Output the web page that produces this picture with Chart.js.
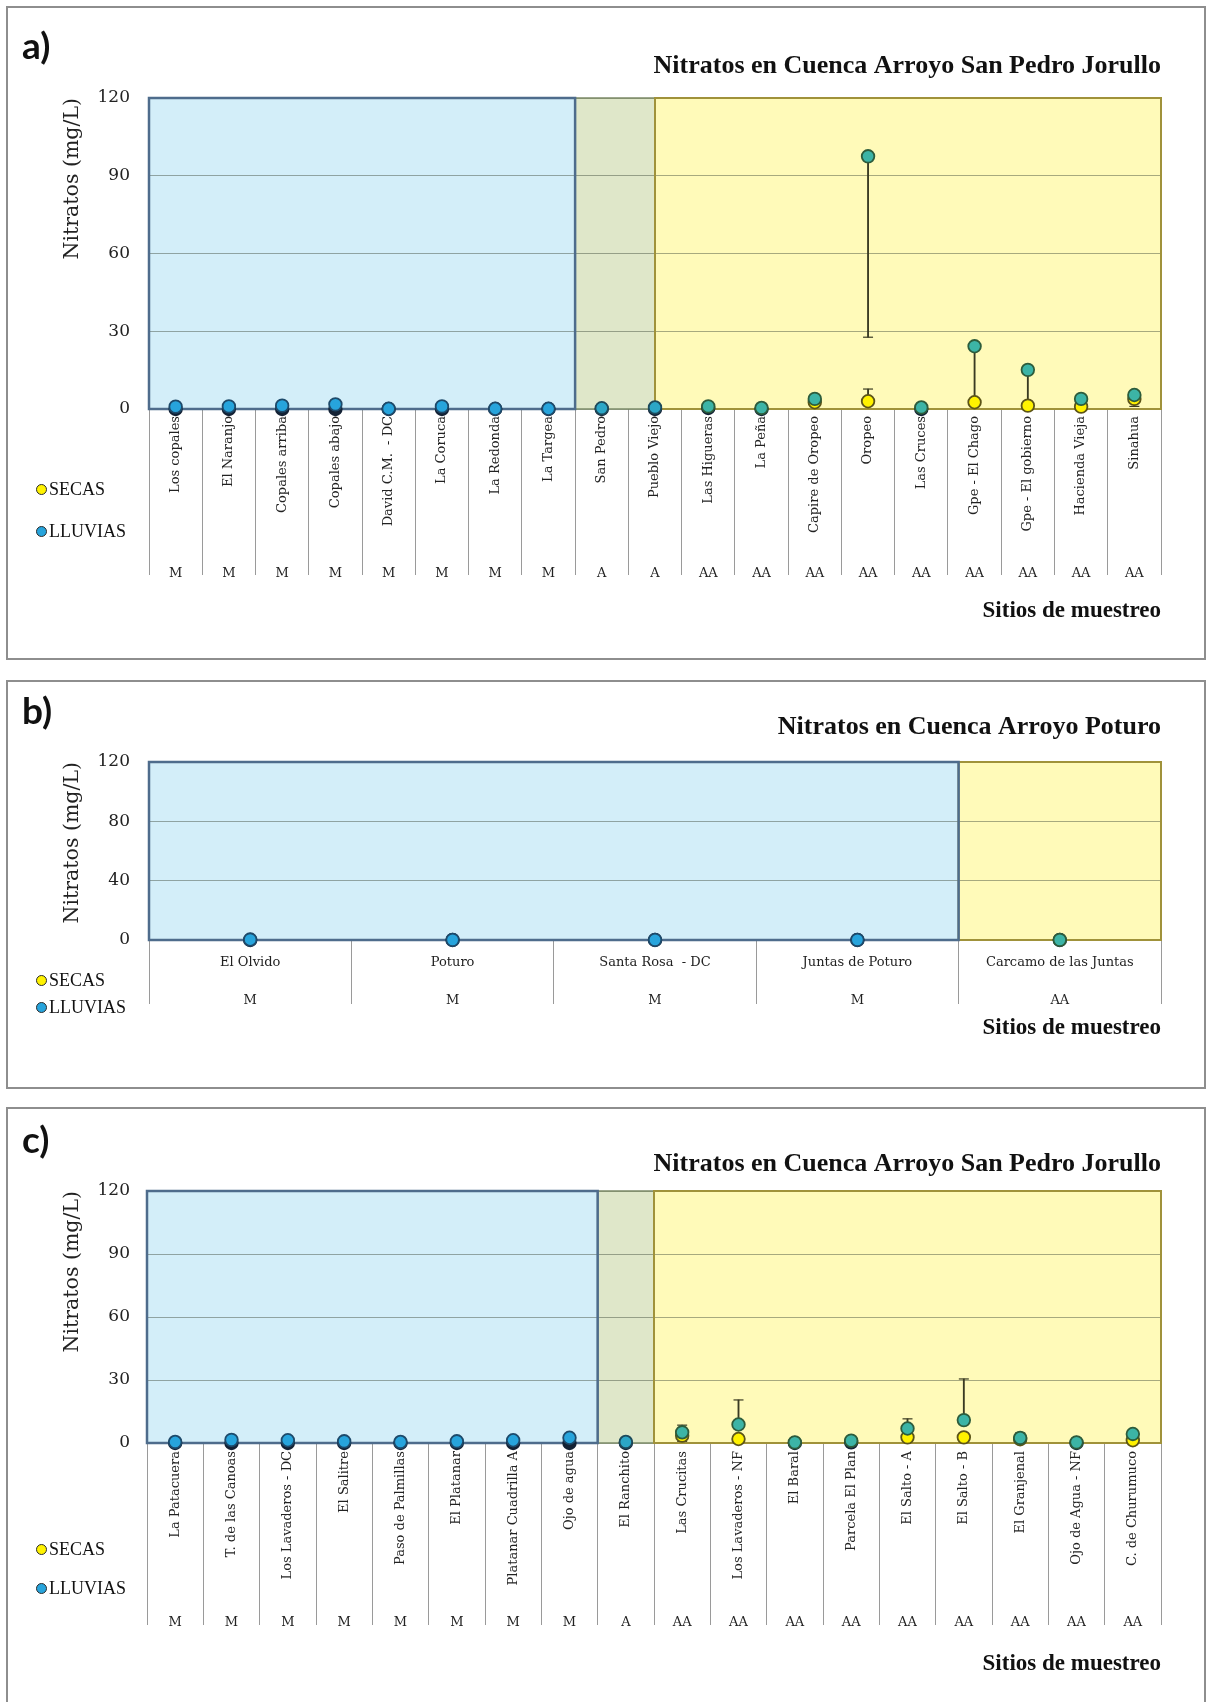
<!DOCTYPE html>
<html><head><meta charset="utf-8">
<script src="https://cdn.jsdelivr.net/npm/chart.js@4.4.1/dist/chart.umd.min.js"></script>
<style>
html,body{margin:0;padding:0;background:#fff;width:1206px;height:1702px;overflow:hidden;position:relative;}
.panel{position:absolute;left:6px;width:1200px;border:2px solid #8e8e8e;box-sizing:border-box;background:#fff;}
canvas{position:absolute;left:0;}
.tag{position:absolute;left:22px;font-family:Lato,'Open Sans',sans-serif;font-weight:bold;font-size:37px;line-height:38px;height:38px;color:#111;}
.leg{position:absolute;left:36px;height:20px;line-height:20px;font-family:'Liberation Serif',serif;font-size:18px;color:#111;display:flex;align-items:center;}
.dot{display:inline-block;width:9px;height:9px;border-radius:50%;border:1.8px solid #2b2b2b;margin-right:2px;}
</style></head><body>
<div class="panel" style="top:6px;height:654px;"></div>
<div class="panel" style="top:680px;height:409px;"></div>
<div class="panel" style="top:1107px;height:620px;"></div>

<canvas id="ca" width="1206" height="662" style="top:0px"></canvas>
<canvas id="cb" width="1206" height="420" style="top:670px"></canvas>
<canvas id="cc" width="1206" height="602" style="top:1100px"></canvas>

<div class="tag" style="top:26px">a)</div>
<div class="tag" style="top:691px">b)</div>
<div class="tag" style="top:1120px">c)</div>

<div class="leg" style="top:479px"><span class="dot" style="background:#fff200"></span>SECAS</div>
<div class="leg" style="top:521px"><span class="dot" style="background:#27a4dc"></span>LLUVIAS</div>
<div class="leg" style="top:970px"><span class="dot" style="background:#fff200"></span>SECAS</div>
<div class="leg" style="top:997px"><span class="dot" style="background:#27a4dc"></span>LLUVIAS</div>
<div class="leg" style="top:1539px"><span class="dot" style="background:#fff200"></span>SECAS</div>
<div class="leg" style="top:1578px"><span class="dot" style="background:#27a4dc"></span>LLUVIAS</div>

<script>
// ---------- Panel a ----------
const aTitle = 'Nitratos en Cuenca Arroyo San Pedro Jorullo';
const aSites = ['Los copales','El Naranjo','Copales arriba','Copales abajo','David C.M.  - DC','La Coruca','La Redonda','La Targea','San Pedro','Pueblo Viejo','Las Higueras','La Peña','Capire de Oropeo','Oropeo','Las Cruces','Gpe - El Chago','Gpe - El gobierno','Hacienda Vieja','Sinahua'];
const aZones = ['M','M','M','M','M','M','M','M','A','A','AA','AA','AA','AA','AA','AA','AA','AA','AA'];
const aLluvias = [0.9,1.0,1.3,1.8,0.1,1.0,0.1,0.1,0.3,0.6,1.0,0.4,3.9,97.5,0.6,24.2,15.1,3.9,5.4];
const aSecas   = [0,0,0,0,0,0,0,0,0,0,0.4,0,2.6,3.0,0,2.6,1.3,0.9,3.9];
const aLluviasErrLow = [null,null,null,null,null,null,null,null,null,null,null,null,null,27.7,null,3.0,1.5,null,null];
const aSecasErrHigh  = [null,null,null,null,null,null,null,null,null,null,null,null,null,7.7,null,null,null,null,null];
const aSecasErrLow   = [null,null,null,null,null,null,null,null,null,null,null,null,null,null,null,null,null,null,1.0];
const aYTicks = [0,30,60,90,120];

// ---------- Panel b ----------
const bTitle = 'Nitratos en Cuenca Arroyo Poturo';
const bSites = ['El Olvido','Poturo','Santa Rosa  - DC','Juntas de Poturo','Carcamo de las Juntas'];
const bZones = ['M','M','M','M','AA'];
const bLluvias = [0.3,0.1,0.1,0.1,0.1];
const bSecas   = [0,0,0,0,0];
const bYTicks = [0,40,80,120];

// ---------- Panel c ----------
const cTitle = 'Nitratos en Cuenca Arroyo San Pedro Jorullo';
const cSites = ['La Patacuera','T. de las Canoas','Los Lavaderos - DC','El Salitre','Paso de Palmillas','El Platanar','Platanar Cuadrilla A','Ojo de agua','El Ranchito','Las Crucitas','Los Lavaderos - NF','El Baral','Parcela El Plan','El Salto - A','El Salto - B','El Granjenal','Ojo de Agua - NF','C. de Churumuco'];
const cZones = ['M','M','M','M','M','M','M','M','A','AA','AA','AA','AA','AA','AA','AA','AA','AA'];
const cLluvias = [0.5,1.5,1.3,0.8,0.5,0.8,1.3,2.5,0.5,5.1,8.8,0.3,1.1,6.9,10.9,2.4,0.3,4.3];
const cSecas   = [0,0,0,0,0,0,0,0,0,3.5,1.9,0,0.3,2.7,2.7,1.8,0,1.3];
const cLluviasErrHigh = [null,null,null,null,null,null,null,null,null,8.5,20.5,null,null,11.5,30.5,4.8,null,null];
const cLluviasErrLow  = [null,null,null,null,null,null,null,null,null,0.8,null,null,null,null,null,null,null,null];
const cYTicks = [0,30,60,90,120];

const Y_TITLE = 'Nitratos (mg/L)';
const X_TITLE = 'Sitios de muestreo';

// ---------- styles ----------
const REGION_STYLE = {
  blue:   {fill:'#d3eef9', edge:'#4e6c8c', w:2.5},
  green:  {fill:'#dfe7c9', edge:'#7d8c68', w:1.5},
  yellow: {fill:'#fffab9', edge:'#a0923a', w:2}
};
const LLUVIAS_FILL = {M:'#27a4dc', A:'#2ca6c6', AA:'#3cb4a6'};
const LLUVIAS_EDGE = {M:'#1d4a6b', A:'#1d4a5b', AA:'#2d5c3c'};
const SECAS_FILL = '#fff200', SECAS_EDGE = '#5c5418', SECAS_LOW = '#142235';
const ERR_COLOR = '#3a3a22';
const SERIF = "'DejaVu Serif', serif";

function makeChart(id, p) {
  const drawOrder = ['green','yellow','blue'];
  const regionPlugin = {
    id: 'regions',
    beforeDraw(chart) {
      const {ctx, scales:{x, y}} = chart;
      const t = y.getPixelForValue(y.max), b = y.getPixelForValue(0);
      ctx.save();
      p.regions.forEach(r => {
        const x0 = x.getPixelForValue(r.from), x1 = x.getPixelForValue(r.to);
        ctx.fillStyle = REGION_STYLE[r.kind].fill;
        ctx.fillRect(x0, t, x1 - x0, b - t);
      });
      ctx.restore();
    },
    beforeDatasetsDraw(chart) {
      const {ctx, scales:{x, y}} = chart;
      const t = y.getPixelForValue(y.max), b = y.getPixelForValue(0);
      ctx.save();
      drawOrder.forEach(k => p.regions.filter(r => r.kind === k).forEach(r => {
        const x0 = x.getPixelForValue(r.from), x1 = x.getPixelForValue(r.to);
        const st = REGION_STYLE[k];
        ctx.strokeStyle = st.edge; ctx.lineWidth = st.w;
        ctx.strokeRect(x0, t, x1 - x0, b - t);
      }));
      ctx.restore();
    }
  };

  const ds = [];
  ds.push({type:'line', label:'LLUVIAS', data:p.lluvias, showLine:false, order:0, clip:false,
    pointRadius:6.3, pointHoverRadius:6.3, pointBorderWidth:1.8,
    pointBackgroundColor: c => LLUVIAS_FILL[p.zones[c.dataIndex]],
    pointBorderColor: c => LLUVIAS_EDGE[p.zones[c.dataIndex]],
    xAxisID:'x', yAxisID:'y'});
  ds.push({type:'line', label:'SECAS', data:p.secas, showLine:false, order:1, clip:false,
    pointRadius:6.3, pointHoverRadius:6.3, pointBorderWidth:1.8,
    pointBackgroundColor: c => (c.raw < 0.5 ? SECAS_LOW : SECAS_FILL),
    pointBorderColor: c => (c.raw < 0.5 ? SECAS_LOW : SECAS_EDGE),
    xAxisID:'x', yAxisID:'y'});
  [[p.lluvias, p.lluviasErrLow], [p.lluvias, p.lluviasErrHigh], [p.secas, p.secasErrLow], [p.secas, p.secasErrHigh]].forEach(([vals, ends]) => {
    if (!ends) return;
    ds.push({type:'bar', label:'err', data: ends.map((e,i) => e == null ? null : [Math.min(e, vals[i]), Math.max(e, vals[i])]),
      backgroundColor: ERR_COLOR, borderWidth:0, barThickness:1.2, grouped:false, order:3, clip:false, xAxisID:'x', yAxisID:'y'});
    ds.push({type:'line', label:'cap', data: ends, showLine:false, pointStyle:'line', pointRadius:5, pointHoverRadius:5,
      pointBorderWidth:1.2, pointBorderColor: ERR_COLOR, order:2, clip:false, xAxisID:'x', yAxisID:'y'});
  });

  const L = p.L;
  return new Chart(document.getElementById(id), {
    type: 'line',
    data: { labels: p.sites, datasets: ds },
    plugins: [regionPlugin],
    options: {
      responsive:false, animation:false, devicePixelRatio:1, events:[],
      layout: { padding: {left:60, right:45, top:10, bottom:L.padB} },
      plugins: {
        legend: {display:false}, tooltip:{enabled:false},
        title: {display:true, text:p.title, align:'end', color:'#111',
          font:{family:"'Liberation Serif', serif", size:26, weight:'bold', lineHeight:1.2},
          padding:{top:L.tPt, bottom:L.tPb}}
      },
      scales: {
        x: { type:'category', offset:true, position:'bottom',
          ticks:{autoSkip:false, maxRotation:L.rot, minRotation:L.rot, color:'#222',
            font:{family:SERIF, size:13}, padding:L.xPad},
          grid:{offset:true, drawOnChartArea:false, drawTicks:true, tickLength:L.xTL, color:'#9a9a9a', lineWidth:1},
          border:{display:false},
          afterFit: s => { s.height = L.xH; } },
        x2: { type:'category', labels:p.zones, offset:true, position:'bottom',
          ticks:{autoSkip:false, maxRotation:0, minRotation:0, color:'#222', font:{family:SERIF, size:13}, padding:L.x2Pad},
          grid:{display:false}, border:{display:false},
          title:{display:true, text:X_TITLE, align:'end', color:'#111',
            font:{family:"'Liberation Serif', serif", size:23, weight:'bold', lineHeight:1.2}, padding:{top:0, bottom:L.x2Pb}},
          afterFit: s => { s.height = L.x2H; } },
        y: { min:0, max:p.yTicks[p.yTicks.length-1],
          afterBuildTicks: s => { s.ticks = p.yTicks.map(v => ({value:v})); },
          ticks:{color:'#222', font:{family:SERIF, size:17}, padding:L.yPad},
          grid:{color:'rgba(60,72,55,0.45)', lineWidth:1, drawTicks:false},
          border:{display:false},
          title:{display:true, text:Y_TITLE, align:'end', color:'#222', font:{family:SERIF, size:20.5}, padding:{top:0,bottom:0}},
          afterFit: s => { s.width = L.yW; } }
      }
    }
  });
}

// title lineHeight 26*1.2 = 31.2 ; x2 title lineHeight 23*1.2 = 27.6
makeChart('ca', {title:aTitle, sites:aSites, zones:aZones, lluvias:aLluvias, secas:aSecas,
  lluviasErrLow:aLluviasErrLow, secasErrHigh:aSecasErrHigh, secasErrLow:aSecasErrLow, yTicks:aYTicks,
  regions:[{kind:'blue',from:-0.5,to:7.5},{kind:'green',from:7.5,to:9},{kind:'yellow',from:9,to:18.5}],
  L:{padB:33, tPt:40.4, tPb:16.4, rot:90, xPad:-159, xTL:166, xH:140, x2Pad:9.2, x2Pb:4.2, x2H:80, yPad:19, yW:89}});

makeChart('cb', {title:bTitle, sites:bSites, zones:bZones, lluvias:bLluvias, secas:bSecas, yTicks:bYTicks,
  regions:[{kind:'blue',from:-0.5,to:3.5},{kind:'yellow',from:3.5,to:4.5}],
  L:{padB:48, tPt:31.4, tPb:19.4, rot:0, xPad:-48.8, xTL:64, xH:40, x2Pad:5.2, x2Pb:0, x2H:62, yPad:19, yW:89}});

makeChart('cc', {title:cTitle, sites:cSites, zones:cZones, lluvias:cLluvias, secas:cSecas,
  lluviasErrHigh:cLluviasErrHigh, lluviasErrLow:cLluviasErrLow, yTicks:cYTicks,
  regions:[{kind:'blue',from:-0.5,to:7.5},{kind:'green',from:7.5,to:8.5},{kind:'yellow',from:8.5,to:17.5}],
  L:{padB:23, tPt:38.4, tPb:11.4, rot:90, xPad:-174, xTL:182, xH:160, x2Pad:4.2, x2Pb:1.2, x2H:76, yPad:17, yW:87}});
</script>
</body></html>
